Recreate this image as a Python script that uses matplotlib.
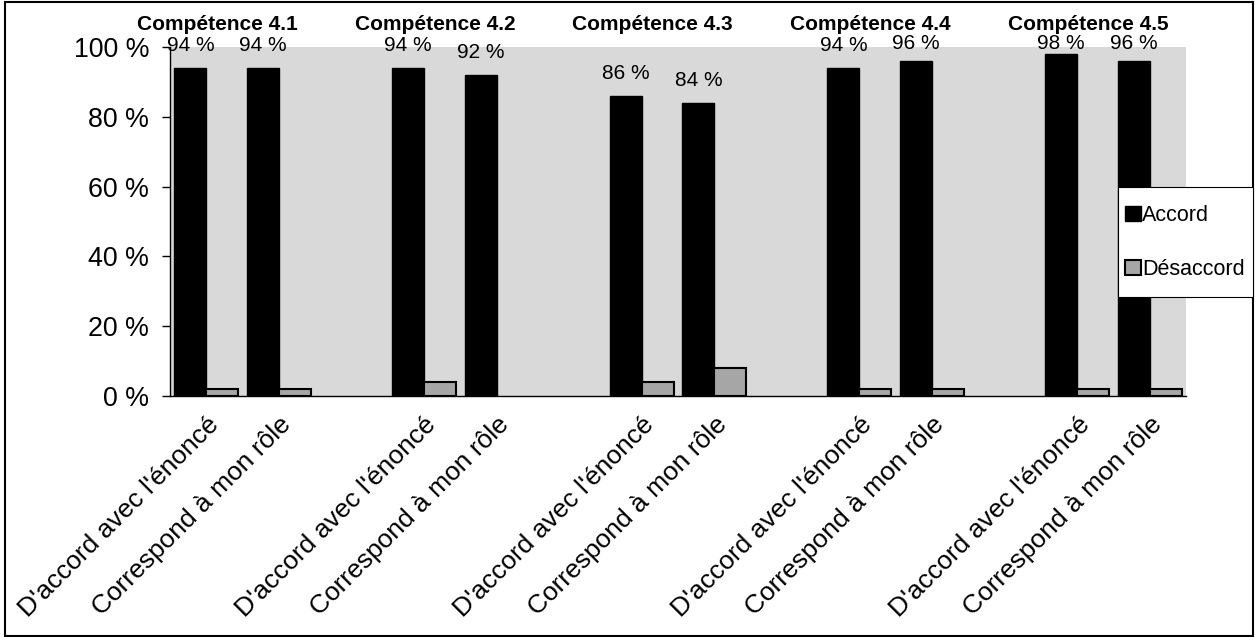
import matplotlib
matplotlib.use("Agg")
import matplotlib.pyplot as plt
import matplotlib.transforms as mtransforms
from matplotlib.patches import Rectangle
import numpy as np

plt.rcParams['font.family'] = ['Liberation Sans', 'DejaVu Sans']

# Données : deux énoncés par compétence, une case vide entre les groupes
competences = ["Compétence 4.1", "Compétence 4.2", "Compétence 4.3",
               "Compétence 4.4", "Compétence 4.5"]
enonces = ["D'accord avec l'énoncé", "Correspond à mon rôle"]
accord = [94, 94, 94, 92, 86, 84, 94, 96, 98, 96]
desaccord = [2, 2, 4, 0, 4, 8, 2, 2, 2, 2]
yticks = [0, 20, 40, 60, 80, 100]

# Positions des catégories (3 cases par compétence, la dernière vide)
pos = []
labels = []
for g in range(len(competences)):
    for k in range(len(enonces)):
        pos.append(3 * g + k)
        labels.append(enonces[k])
pos = np.array(pos)
w = 0.44

fig = plt.figure(figsize=(12.55, 6.37), dpi=100)
ax = fig.add_axes([170 / 1255, 1 - 396 / 637, (1186 - 170) / 1255, (396 - 47) / 637])
ax.set_facecolor('#d9d9d9')

ax.bar(pos - w / 2, accord, width=w, color='black', edgecolor='black',
       linewidth=1, label='Accord', zorder=3)
# pas de contour pour une barre à 0
lw_des = [1.5 if v > 0 else 0 for v in desaccord]
ax.bar(pos + w / 2, desaccord, width=w, color='#a6a6a6', edgecolor='black',
       linewidth=lw_des, label='Désaccord', zorder=3)

# Étiquettes de valeur au-dessus des barres "Accord"
for x, v in zip(pos, accord):
    ax.text(x - w / 2, min(v + 6.3, 101.0), "%d %%" % v, ha='center', va='center',
            fontsize=15, clip_on=False)

ax.set_xlim(-0.5, 13.5)
ax.set_ylim(0, 100)
ax.set_yticks(yticks)
ax.set_yticklabels(["%d %%" % t for t in yticks], fontsize=19.3)
ax.tick_params(axis='y', direction='out', length=6, width=1, pad=9)
ax.set_xticks(pos)
ax.set_xticklabels(labels, rotation=45, ha='right', va='top',
                   rotation_mode='anchor', fontsize=19)
ax.tick_params(axis='x', length=0, pad=12)

for s in ['top', 'right']:
    ax.spines[s].set_visible(False)
ax.spines['left'].set_linewidth(1)
ax.spines['bottom'].set_linewidth(1)

# Titres des compétences
trans = mtransforms.blended_transform_factory(ax.transData, fig.transFigure)
for g, titre in enumerate(competences):
    ax.text(3 * g + 0.5 - 0.35, 1 - 24 / 637, titre, transform=trans,
            ha='center', va='center', fontsize=15, fontweight='bold')

# Légende : cadre blanc dessiné à part, entrées sans cadre par-dessus
fig.patches.append(Rectangle((1118 / 1255, 1 - 297 / 637), 135 / 1255, 110 / 637,
                             transform=fig.transFigure, facecolor='white',
                             edgecolor='black', linewidth=0.8, zorder=5))
leg = fig.legend(loc='center left', bbox_to_anchor=(1125 / 1255, 1 - 242.5 / 637),
                 fontsize=15.5, frameon=False, handlelength=0.75,
                 handleheight=0.7, handletextpad=0.05, labelspacing=1.55,
                 borderpad=0, borderaxespad=0)
leg.set_zorder(6)

# Cadre autour de la figure
fig.patches.append(Rectangle((5 / 1255, 1 / 637), 1248 / 1255, 634 / 637,
                             transform=fig.transFigure, fill=False,
                             edgecolor='black', linewidth=1.5))

fig.savefig('out.png', dpi=100)
